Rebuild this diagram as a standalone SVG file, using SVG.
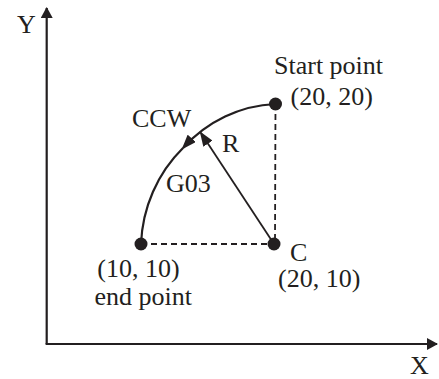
<svg xmlns="http://www.w3.org/2000/svg" width="439" height="379" viewBox="0 0 439 379">
  <style>
    text { font-size: 26px; fill: #231f20; }
    .axis { stroke: #231f20; stroke-width: 2.2; fill: none; }
    .arc { stroke: #231f20; stroke-width: 2.2; fill: none; }
    .radius { stroke: #231f20; stroke-width: 1.8; fill: none; }
    .dash { stroke: #231f20; stroke-width: 1.8; fill: none; stroke-dasharray: 6 4; }
    .dot { fill: #231f20; }
  </style>
  <defs>
    <marker id="axisHead" markerUnits="userSpaceOnUse" markerWidth="12" markerHeight="12" refX="10" refY="6" orient="auto">
      <path d="M0,0 L11,6 L0,12 z" fill="#231f20"/>
    </marker>
    <marker id="head" markerUnits="userSpaceOnUse" markerWidth="15" markerHeight="11" refX="13" refY="5.5" orient="auto">
      <path d="M0,0 L15,5.5 L0,11 z" fill="#231f20"/>
    </marker>
  </defs>

  <g font-family="Liberation Serif, serif">
  <g id="axes">
    <line class="axis" x1="46.7" y1="344" x2="46.7" y2="8" marker-end="url(#axisHead)"/>
    <line class="axis" x1="45.6" y1="344" x2="437" y2="344" marker-end="url(#axisHead)"/>
    <text x="17" y="33">Y</text>
    <text x="410" y="374">X</text>
  </g>

  <g id="connectors">
    <line class="dash" x1="275.5" y1="104" x2="275" y2="244"/>
    <line class="dash" x1="141" y1="244" x2="274" y2="244"/>
    <path class="arc" d="M275.5,104 A134.5,140 0 0 0 183,148" marker-end="url(#head)"/>
    <path class="arc" d="M183,148 A134.5,140 0 0 0 141,244"/>
    <line class="radius" x1="274" y1="244" x2="200.8" y2="132.8" marker-end="url(#head)"/>
  </g>

  <g id="start">
    <circle class="dot" cx="275.5" cy="104" r="6.5"/>
    <text x="274" y="74">Start point</text>
    <text x="290.5" y="105">(20, 20)</text>
  </g>

  <g id="center">
    <circle class="dot" cx="274" cy="244" r="6.5"/>
    <text x="290" y="261">C</text>
    <text x="278" y="287.3">(20, 10)</text>
  </g>

  <g id="end">
    <circle class="dot" cx="141" cy="244" r="6.5"/>
    <text x="97.3" y="277.3">(10, 10)</text>
    <text x="94.5" y="305">end point</text>
  </g>

  <g id="labels">
    <text x="132" y="127.3">CCW</text>
    <text x="222" y="152.3">R</text>
    <text x="166" y="191.7">G03</text>
  </g>
  </g>
</svg>
